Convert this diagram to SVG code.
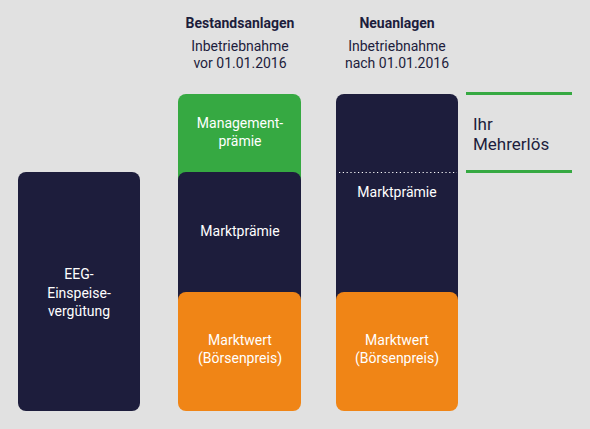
<svg xmlns="http://www.w3.org/2000/svg" width="590" height="429" viewBox="0 0 590 429">
<style>
.bg{fill:#e1e1e1}
.navy{fill:#1d1d3c}
.green{fill:#36a942}
.orange{fill:#f08516}
.lbl{font-family:Roboto,"Liberation Sans",sans-serif;font-size:14px;fill:#ffffff;text-anchor:middle}
.hd{font-family:Roboto,"Liberation Sans",sans-serif;font-size:14px;fill:#1d1d3c;text-anchor:middle}
.hdb{font-weight:bold}
.gl{stroke:#36a942;stroke-width:3}
</style>
<rect class="bg" x="0" y="0" width="590" height="429"/>
<g id="header-bestand">
<text class="hd hdb" x="240" y="28">Bestandsanlagen</text>
<text class="hd" x="240" y="51">Inbetriebnahme</text>
<text class="hd" x="240" y="68">vor 01.01.2016</text>
</g>
<g id="header-neu">
<text class="hd hdb" x="397" y="28">Neuanlagen</text>
<text class="hd" x="397" y="51">Inbetriebnahme</text>
<text class="hd" x="397" y="68">nach 01.01.2016</text>
</g>
<g id="eeg">
<rect class="navy" x="18" y="172" width="122" height="239" rx="8"/>
<text class="lbl" x="79" y="279">EEG-</text>
<text class="lbl" x="79" y="298">Einspeise-</text>
<text class="lbl" x="79" y="316">vergütung</text>
</g>
<g id="management">
<rect class="green" x="178" y="94" width="123" height="100" rx="8"/>
<text class="lbl" x="240" y="128">Management-</text>
<text class="lbl" x="240" y="146">prämie</text>
</g>
<g id="marktpraemie-bestand">
<rect class="navy" x="178" y="172" width="123" height="140" rx="8"/>
<text class="lbl" x="240" y="236">Marktprämie</text>
</g>
<g id="marktwert-bestand">
<rect class="orange" x="178" y="292" width="123" height="119" rx="8"/>
<text class="lbl" x="240" y="345">Marktwert</text>
<text class="lbl" x="240" y="363">(Börsenpreis)</text>
</g>
<g id="marktpraemie-neu">
<rect class="navy" x="336" y="94" width="122" height="218" rx="8"/>
<text class="lbl" x="397" y="197">Marktprämie</text>
</g>
<g id="marktwert-neu">
<rect class="orange" x="336" y="292" width="122" height="119" rx="8"/>
<text class="lbl" x="397" y="345">Marktwert</text>
<text class="lbl" x="397" y="363">(Börsenpreis)</text>
</g>
<g id="connectors">
<line x1="339" y1="172.5" x2="457" y2="172.5" stroke="#ffffff" stroke-width="1.2" stroke-dasharray="1.2 2.6"/>
<line class="gl" x1="466" y1="93.5" x2="572" y2="93.5"/>
<line class="gl" x1="466" y1="171.5" x2="572" y2="171.5"/>
</g>
<g id="mehrerloes">
<text x="473" y="130" font-family="Roboto,'Liberation Sans',sans-serif" font-size="17" fill="#1d1d3c">Ihr</text>
<text x="473" y="150" font-family="Roboto,'Liberation Sans',sans-serif" font-size="17" fill="#1d1d3c">Mehrerlös</text>
</g>
</svg>
